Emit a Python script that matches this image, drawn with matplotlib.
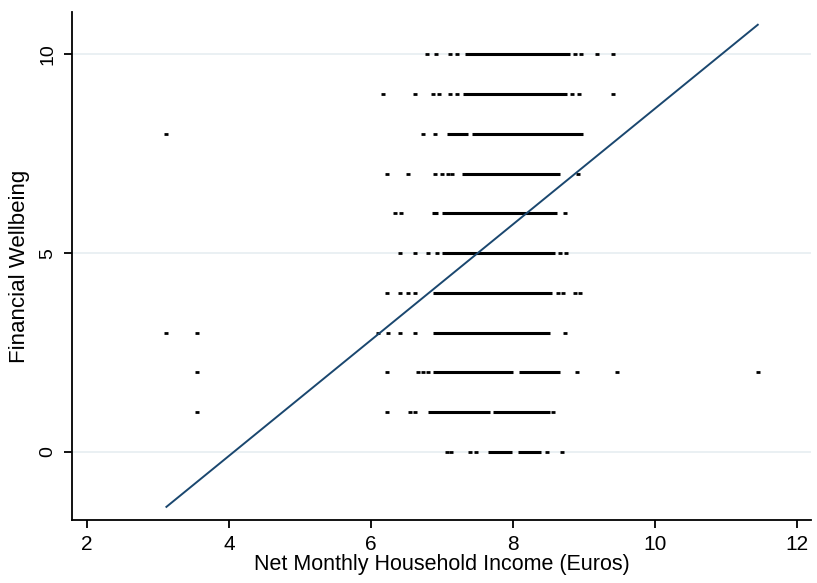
import numpy as np
import matplotlib
matplotlib.use('Agg')
import matplotlib.pyplot as plt
from matplotlib import font_manager

# log net monthly household income vs financial wellbeing score (0-10)
# dense stretches of overlapping observations, stored as (start, end) per row
run_y = [10, 9, 8, 8, 7, 6, 6, 5, 4, 3, 2, 2, 1, 1, 0, 0]
run_start = [7.32, 7.30, 7.07, 7.42, 7.28, 6.86, 7.00, 7.00, 6.87, 6.87, 6.87, 8.08, 6.80, 7.72, 7.65, 8.07]
run_end = [8.80, 8.76, 7.37, 8.99, 8.66, 6.95, 8.62, 8.60, 8.55, 8.52, 8.00, 8.66, 7.68, 8.52, 7.99, 8.40]

# sparse observations outside the dense stretches
pt_x = [6.79, 6.92, 7.11, 7.21, 8.87, 8.96, 9.18, 9.41,
        6.17, 6.62, 6.87, 6.96, 7.11, 7.21, 8.83, 8.93, 9.41,
        3.12, 6.73, 6.90,
        6.23, 6.52, 6.90, 7.00, 7.08, 7.14, 8.92,
        6.34, 6.42, 8.73,
        6.41, 6.62, 6.80, 6.93, 8.66, 8.75,
        6.23, 6.41, 6.52, 6.62, 8.63, 8.70, 8.87, 8.95,
        3.12, 3.55, 6.10, 6.24, 6.41, 6.62, 8.73,
        3.55, 6.23, 6.66, 6.73, 6.80, 8.90, 9.46, 11.45,
        3.55, 6.23, 6.55, 6.62, 8.56,
        7.07, 7.13, 7.40, 7.48, 8.48, 8.69]
pt_y = [10] * 8 + [9] * 9 + [8] * 3 + [7] * 7 + [6] * 3 + [5] * 6 + [4] * 8 \
    + [3] * 7 + [2] * 8 + [1] * 5 + [0] * 6

# linear fit
fit_intercept = -5.92
fit_slope = 1.455

dot_color = 'black'
fit_color = '#1a476f'
grid_color = '#e8eff2'

installed = {f.name for f in font_manager.fontManager.ttflist}
narrow = 'Liberation Sans Narrow' if 'Liberation Sans Narrow' in installed else 'Liberation Sans'
plt.rcParams['font.family'] = ['Liberation Sans', 'DejaVu Sans']

fig = plt.figure(figsize=(8.17, 5.83), dpi=100)
ax = fig.add_axes([0.0881, 0.1081, 0.9046, 0.8713])

for v in [0, 5, 10]:
    ax.axhline(v, color=grid_color, linewidth=1.3, zorder=0)

ax.hlines(run_y, run_start, run_end, color=dot_color, linewidth=2.2, zorder=2)
ax.plot(pt_x, pt_y, linestyle='none', marker='_', markersize=3.5, markeredgewidth=2.0,
        color=dot_color, zorder=2)

all_x = np.array(run_start + run_end + pt_x)
xs = np.array([all_x.min(), all_x.max()])
ax.plot(xs, fit_intercept + fit_slope * xs, color=fit_color, linewidth=1.4, zorder=3)

ax.set_xlim(1.79, 12.2)
ax.set_ylim(-1.71, 11.06)
ax.set_xticks([2, 4, 6, 8, 10, 12])
ax.set_xticklabels(['2', '4', '6', '8', '10', '12'], fontsize=15, family=[narrow, 'DejaVu Sans'])
ax.set_yticks([0, 5, 10])
ax.set_yticklabels(['0', '5', '10'], fontsize=14, rotation=90, va='center')

for s in ['top', 'right']:
    ax.spines[s].set_visible(False)
for s in ['left', 'bottom']:
    ax.spines[s].set_linewidth(1.3)

ax.tick_params(axis='both', direction='out', length=6, width=1.3)
ax.tick_params(axis='x', pad=5)
ax.tick_params(axis='y', pad=5)

ax.set_xlabel('Net Monthly Household Income (Euros)', fontsize=15.5,
              family=[narrow, 'DejaVu Sans'], labelpad=0)
ax.set_ylabel('Financial Wellbeing', fontsize=16, labelpad=7)

fig.savefig('out.png', dpi=100)
